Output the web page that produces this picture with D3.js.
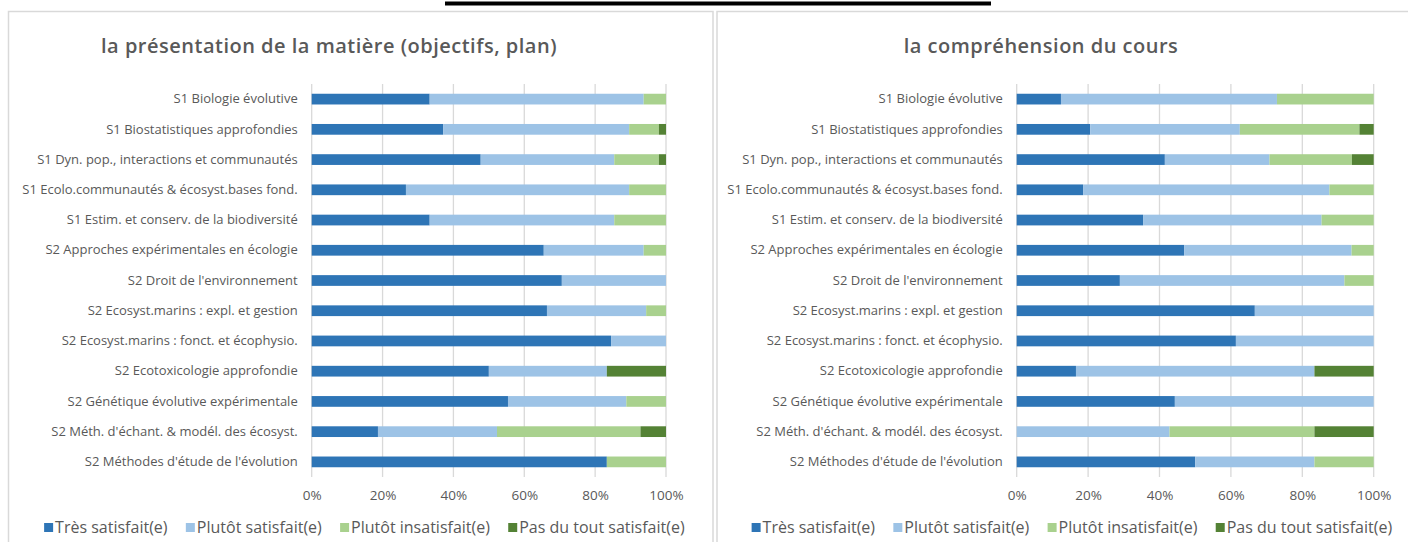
<!DOCTYPE html>
<html><head><meta charset="utf-8">
<script src="https://cdn.jsdelivr.net/npm/d3@7"></script>
<style>
html,body{margin:0;padding:0;background:#fff;}
svg{display:block;}
text{font-family:"Open Sans",sans-serif;fill:#595959;}
</style></head>
<body>
<svg id="chart" width="1408" height="542"></svg>
<script>
// ---------- data ----------
const categories = [
  "S1 Biologie évolutive",
  "S1 Biostatistiques approfondies",
  "S1 Dyn. pop., interactions et communautés",
  "S1 Ecolo.communautés & écosyst.bases fond.",
  "S1 Estim. et conserv. de la biodiversité",
  "S2 Approches expérimentales en écologie",
  "S2 Droit de l'environnement",
  "S2 Ecosyst.marins : expl. et gestion",
  "S2 Ecosyst.marins : fonct. et écophysio.",
  "S2 Ecotoxicologie approfondie",
  "S2 Génétique évolutive expérimentale",
  "S2 Méth. d'échant. & modél. des écosyst.",
  "S2 Méthodes d'étude de l'évolution"
];
const seriesNames = ["Très satisfait(e)", "Plutôt satisfait(e)", "Plutôt insatisfait(e)", "Pas du tout satisfait(e)"];
const tickValues = [0, 20, 40, 60, 80, 100];
const tickLabels = ["0%", "20%", "40%", "60%", "80%", "100%"];

const titleLeft = "la présentation de la matière (objectifs, plan)";
const leftTres   = [33.3, 37.1, 47.7, 26.6, 33.3, 65.5, 70.6, 66.4, 84.5, 50.0, 55.4, 18.7, 83.3];
const leftPlutot = [60.4, 52.5, 37.7, 63.0, 52.1, 28.2, 29.4, 28.0, 15.5, 33.3, 33.4, 33.6, 0];
const leftInsat  = [6.3, 8.4, 12.6, 10.4, 14.6, 6.3, 0, 5.6, 0, 0, 11.2, 40.5, 16.7];
const leftPas    = [0, 2.0, 2.0, 0, 0, 0, 0, 0, 0, 16.7, 0, 7.2, 0];

const titleRight = "la compréhension du cours";
const rightTres   = [12.4, 20.6, 41.5, 18.6, 35.4, 46.9, 28.9, 66.7, 61.4, 16.6, 44.3, 0, 50.0];
const rightPlutot = [60.5, 41.9, 29.3, 69.0, 50.0, 46.9, 62.9, 33.3, 38.6, 66.8, 55.7, 42.8, 33.4];
const rightInsat  = [27.1, 33.5, 23.1, 12.4, 14.6, 6.2, 8.2, 0, 0, 0, 0, 40.6, 16.6];
const rightPas    = [0, 4.0, 6.1, 0, 0, 0, 0, 0, 0, 16.6, 0, 16.6, 0];

const colors = ["#2E75B6", "#9DC3E6", "#A9D18E", "#548235"];

// ---------- drawing ----------
const svg = d3.select("#chart");

// top black bar
svg.append("rect").attr("x", 445).attr("y", 1.5).attr("width", 546).attr("height", 4).attr("fill", "#000");

// panel frames
svg.append("rect").attr("x", 8.5).attr("y", 11.5).attr("width", 704.5).attr("height", 560)
  .attr("fill", "none").attr("stroke", "#d9d9d9").attr("stroke-width", 1.5);
svg.append("rect").attr("x", 717).attr("y", 11.5).attr("width", 720).attr("height", 560)
  .attr("fill", "none").attr("stroke", "#d9d9d9").attr("stroke-width", 1.5);

function drawPanel(cfg) {
  const g = svg.append("g");
  const rows = categories.map((c, i) => ({
    cat: c,
    [seriesNames[0]]: cfg.data[0][i],
    [seriesNames[1]]: cfg.data[1][i],
    [seriesNames[2]]: cfg.data[2][i],
    [seriesNames[3]]: cfg.data[3][i]
  }));
  const x = d3.scaleLinear().domain([0, 100]).range([cfg.x0, cfg.x1]);
  const y = d3.scaleBand().domain(categories).range([84, 477]).paddingInner(0.645).paddingOuter(0.3225);

  // gridlines
  g.append("g").selectAll("line").data(tickValues).join("line")
    .attr("x1", d => x(d)).attr("x2", d => x(d))
    .attr("y1", 84).attr("y2", 477)
    .attr("stroke", "#d9d9d9").attr("stroke-width", 1.3);

  // bars
  const stack = d3.stack().keys(seriesNames)(rows);
  g.append("g").selectAll("g").data(stack).join("g")
    .attr("fill", (d, i) => colors[i])
    .selectAll("rect").data(d => d).join("rect")
    .attr("x", d => x(d[0]))
    .attr("width", d => Math.max(0, x(d[1]) - x(d[0])))
    .attr("y", d => y(d.data.cat))
    .attr("height", y.bandwidth());

  // category axis labels
  const yAxis = d3.axisLeft(y).tickSize(0).tickPadding(0);
  const ya = g.append("g").attr("transform", `translate(${cfg.x0 - 14},0)`).call(yAxis);
  ya.select(".domain").remove();
  ya.selectAll("text").style("font-family", '"Open Sans",sans-serif').style("font-size", "13px")
    .attr("fill", "#595959");

  // value axis
  const xAxis = d3.axisBottom(x).tickValues(tickValues).tickSize(0).tickPadding(0)
    .tickFormat((d, i) => tickLabels[i]);
  const xa = g.append("g").attr("transform", `translate(0,${490})`).call(xAxis);
  xa.select(".domain").remove();
  xa.selectAll("text").style("font-family", '"Open Sans",sans-serif').style("font-size", "13.5px")
    .attr("fill", "#595959");

  // title
  g.append("text").attr("x", cfg.titleX).attr("y", 53).attr("text-anchor", "middle")
    .style("font-size", "20px").style("font-weight", "600").style("letter-spacing", "0.5px")
    .attr("fill", "#595959")
    .text(cfg.title);

  // legend
  const lg = g.append("g");
  const items = lg.selectAll("g").data(seriesNames).join("g");
  items.append("rect").attr("width", 9).attr("height", 9).attr("y", 523)
    .attr("fill", (d, i) => colors[i]);
  items.append("text").attr("x", 11).attr("y", 533).style("font-size", "16px").text(d => d);
  let cx = 0;
  items.each(function () {
    const w = this.getBBox().width;
    d3.select(this).attr("transform", `translate(${cx},0)`);
    cx += w + 18;
  });
  const total = cx - 18;
  lg.attr("transform", `translate(${cfg.legendCenter - total / 2},0)`);
}

drawPanel({ x0: 311.7, x1: 666, title: titleLeft, titleX: 329, legendCenter: 364.5,
  data: [leftTres, leftPlutot, leftInsat, leftPas] });
drawPanel({ x0: 1016.7, x1: 1373.7, title: titleRight, titleX: 1041, legendCenter: 1072,
  data: [rightTres, rightPlutot, rightInsat, rightPas] });
</script>
</body></html>
